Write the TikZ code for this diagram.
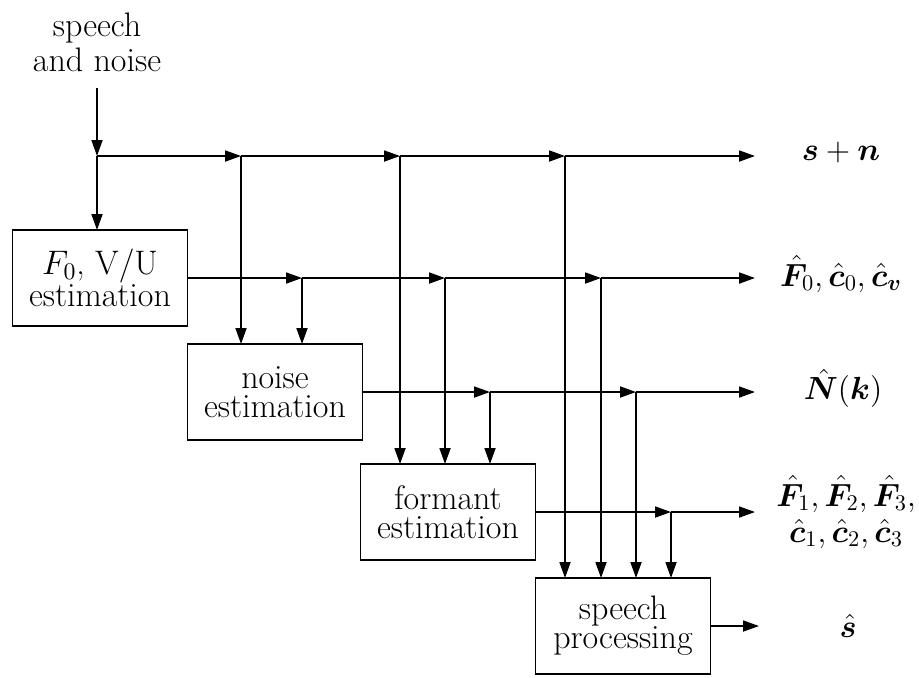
\RequirePackage{fix-cm}
\documentclass[tikz,border=0pt]{standalone}
\usepackage{amsmath,bm}
\usetikzlibrary{arrows.meta, positioning}

\begin{document}
\begin{tikzpicture}[
    x=0.5pt, y=-0.5pt,
    line width=0.9pt,
    font=\fontsize{17}{14.5}\selectfont,
    process/.style={rectangle, draw, outer sep=0pt, minimum width=87.5pt, minimum height=48pt, align=center},
    outlabel/.style={align=center, font=\fontsize{16}{18}\selectfont},
    arrow/.style={-{Triangle[length=8pt,width=5.5pt]}}
]
\useasboundingbox (0,0) rectangle (919,677);

\node[align=center, font=\fontsize{17}{17.5}\selectfont] (src) at (97,42) {speech\\and noise};

\node[process] (f0) at (100,278) {$F_0$, V/U\\estimation};
\node[process, below right=9pt and 0pt of f0] (noise) {noise\\estimation};
\node[process, below right=12pt and -1pt of noise] (formant) {formant\\estimation};
\node[process, below right=9pt and 0pt of formant] (proc) {speech\\processing};

% junctions on the lines
\coordinate (in) at (97,88);
\coordinate (a0) at (97,156);
\coordinate (a1) at (241,156);
\coordinate (a2) at (400,156);
\coordinate (a3) at (565,156);
\coordinate (a4) at (755,156);

\coordinate (b1) at (302,278);
\coordinate (b2) at (445,278);
\coordinate (b3) at (601,278);
\coordinate (b4) at (755,278);

\coordinate (c1) at (490,392);
\coordinate (c2) at (636,392);
\coordinate (c3) at (755,392);

\coordinate (d1) at (671,512);
\coordinate (d2) at (755,512);

\coordinate (e1) at (759,626);

% output labels
\node[outlabel] (ysn) at (841,152) {$\bm{s}+\bm{n}$};
\node[outlabel] (yf0) at (841,274) {$\hat{\bm{F}}_0, \hat{\bm{c}}_0, \hat{\bm{c}}_{\bm{v}}$};
\node[outlabel] (ynk) at (843,388) {$\hat{\bm{N}}(\bm{k})$};
\node[outlabel] (yfm) at (846,512) {$\hat{\bm{F}}_1, \hat{\bm{F}}_2, \hat{\bm{F}}_3,$\\$\hat{\bm{c}}_1, \hat{\bm{c}}_2, \hat{\bm{c}}_3$};
\node[outlabel] (ys) at (848,626) {$\hat{\bm{s}}$};

\draw[arrow] (in) -- (a0);
\draw[arrow] (a0) -- (a0 |- f0.north);

\draw[arrow] (a0) -- (a1);
\draw[arrow] (a1) -- (a2);
\draw[arrow] (a2) -- (a3);
\draw[arrow] (a3) -- (a4);

\draw[arrow] (f0.east |- b1) -- (b1);
\draw[arrow] (b1) -- (b2);
\draw[arrow] (b2) -- (b3);
\draw[arrow] (b3) -- (b4);

\draw[arrow] (noise.east |- c1) -- (c1);
\draw[arrow] (c1) -- (c2);
\draw[arrow] (c2) -- (c3);

\draw[arrow] (formant.east |- d1) -- (d1);
\draw[arrow] (d1) -- (d2);

\draw[arrow] (proc.east) -- (proc.east -| e1);

\draw[arrow] (a1) -- (a1 |- noise.north);
\draw[arrow] (b1) -- (b1 |- noise.north);

\draw[arrow] (a2) -- (a2 |- formant.north);
\draw[arrow] (b2) -- (b2 |- formant.north);
\draw[arrow] (c1) -- (c1 |- formant.north);

\draw[arrow] (a3) -- (a3 |- proc.north);
\draw[arrow] (b3) -- (b3 |- proc.north);
\draw[arrow] (c2) -- (c2 |- proc.north);
\draw[arrow] (d1) -- (d1 |- proc.north);

\end{tikzpicture}
\end{document}
